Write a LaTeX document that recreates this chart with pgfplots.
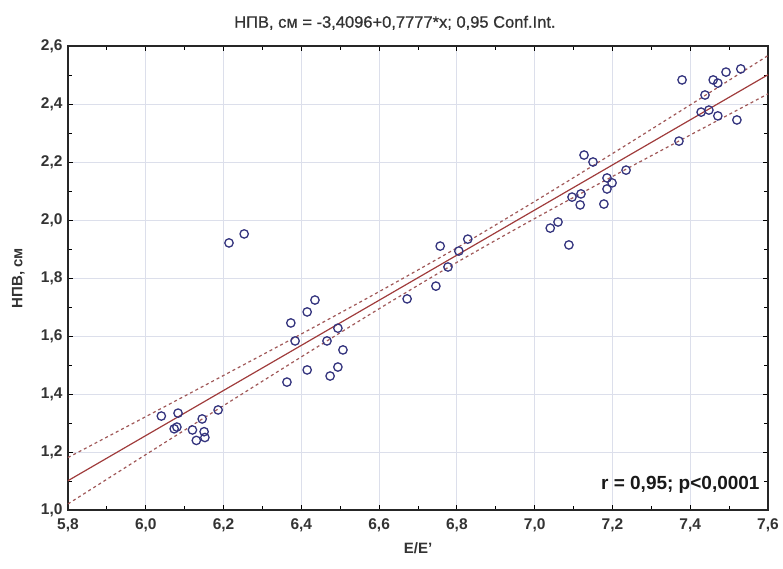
\documentclass[border=0pt]{standalone}
\usepackage{pgfplots}
\pgfplotsset{compat=1.18}
\usepackage{fontspec}
\setmainfont{Liberation Sans}
\newfontfamily\tfont[FakeBold=0.8]{Liberation Sans}
\definecolor{pt}{HTML}{34347E}
\definecolor{reg}{HTML}{A03C3C}
\definecolor{ci}{HTML}{A05858}
\definecolor{gr}{HTML}{DCDFEB}
\definecolor{tx}{HTML}{333333}
\begin{document}
\begin{tikzpicture}
\path[use as bounding box] (-68pt,-58pt) rectangle (715pt,510pt);
\begin{axis}[
  scale only axis, width=700pt, height=464pt,
  xmin=5.8, xmax=7.6, ymin=1.0, ymax=2.6,
  xtick={5.8,6.0,...,7.61}, ytick={1.0,1.2,...,2.61},
  minor x tick num=1, minor y tick num=1,
  tick align=inside, major tick length=5pt, minor tick length=4pt,
  grid=major, major grid style={gr, line width=0.8pt},
  axis line style={black!85, line width=1.1pt},
  tick style={black, line width=0.8pt},
  /pgf/number format/assume math mode=true,
  /pgf/number format/use comma,
  /pgf/number format/fixed, /pgf/number format/fixed zerofill,
  /pgf/number format/precision=1,
  ticklabel style={font=\bfseries\fontsize{15.5}{17}\selectfont, text=tx},
  xticklabel style={yshift=-5pt},
  yticklabel style={xshift=-2pt},
  xlabel={E/E'}, ylabel={НПВ, см},
  label style={font=\bfseries\fontsize{15}{17}\selectfont, text=tx},
  xlabel style={at={(axis description cs:0.5,-0.082)}, anchor=center},
  ylabel style={at={(axis description cs:-0.071,0.5)}, anchor=center},
  clip=false,
]
\addplot[only marks, mark=o, mark size=4.2pt, mark options={pt, line width=1.3pt}] coordinates {
(6.04,1.324)(6.083,1.334)(6.08,1.286)(6.073,1.28)(6.12,1.276)(6.145,1.314)
(6.15,1.27)(6.13,1.24)(6.152,1.25)(6.186,1.345)
(6.214,1.921)(6.253,1.952)(6.373,1.645)(6.384,1.583)(6.415,1.683)(6.435,1.724)
(6.363,1.441)(6.415,1.483)(6.466,1.583)(6.494,1.627)(6.507,1.552)(6.494,1.493)(6.474,1.462)
(6.757,1.91)(6.672,1.728)(6.746,1.772)(6.777,1.838)(6.805,1.893)(6.828,1.934)
(7.127,2.224)(7.15,2.2)(7.096,2.079)(7.119,2.09)(7.117,2.052)(7.04,1.972)(7.06,1.993)
(7.088,1.914)(7.178,2.055)(7.186,2.145)(7.199,2.128)(7.186,2.107)(7.235,2.172)
(7.379,2.483)(7.492,2.51)(7.53,2.521)(7.459,2.483)(7.471,2.472)(7.438,2.431)
(7.428,2.372)(7.448,2.379)(7.471,2.359)(7.52,2.345)(7.371,2.272)
};
\addplot[reg, line width=1.2pt] coordinates {(5.8,1.1011)(7.6,2.5009)};
\addplot[ci, line width=1.2pt, dash pattern=on 3pt off 3pt, smooth] coordinates {
(5.8,1.181)(6.0,1.322)(6.2,1.464)(6.4,1.607)(6.6,1.753)(6.8,1.904)(7.0,2.064)(7.2,2.229)(7.4,2.397)(7.6,2.567)};
\addplot[ci, line width=1.2pt, dash pattern=on 3pt off 3pt, smooth] coordinates {
(5.8,1.021)(6.0,1.191)(6.2,1.360)(6.4,1.528)(6.6,1.694)(6.8,1.854)(7.0,2.005)(7.2,2.150)(7.4,2.293)(7.6,2.435)};
\node[anchor=east, text=black!90, font=\bfseries\fontsize{19}{21}\selectfont] at (rel axis cs:0.993,0.054) {r = 0,95; p<0,0001};
\node[text=tx, font=\tfont\fontsize{16.5}{18}\selectfont] at (rel axis cs:0.467,1.05) {НПВ, см = -3,4096+0,7777*x; 0,95 Conf.Int.};
\end{axis}
\end{tikzpicture}
\end{document}
